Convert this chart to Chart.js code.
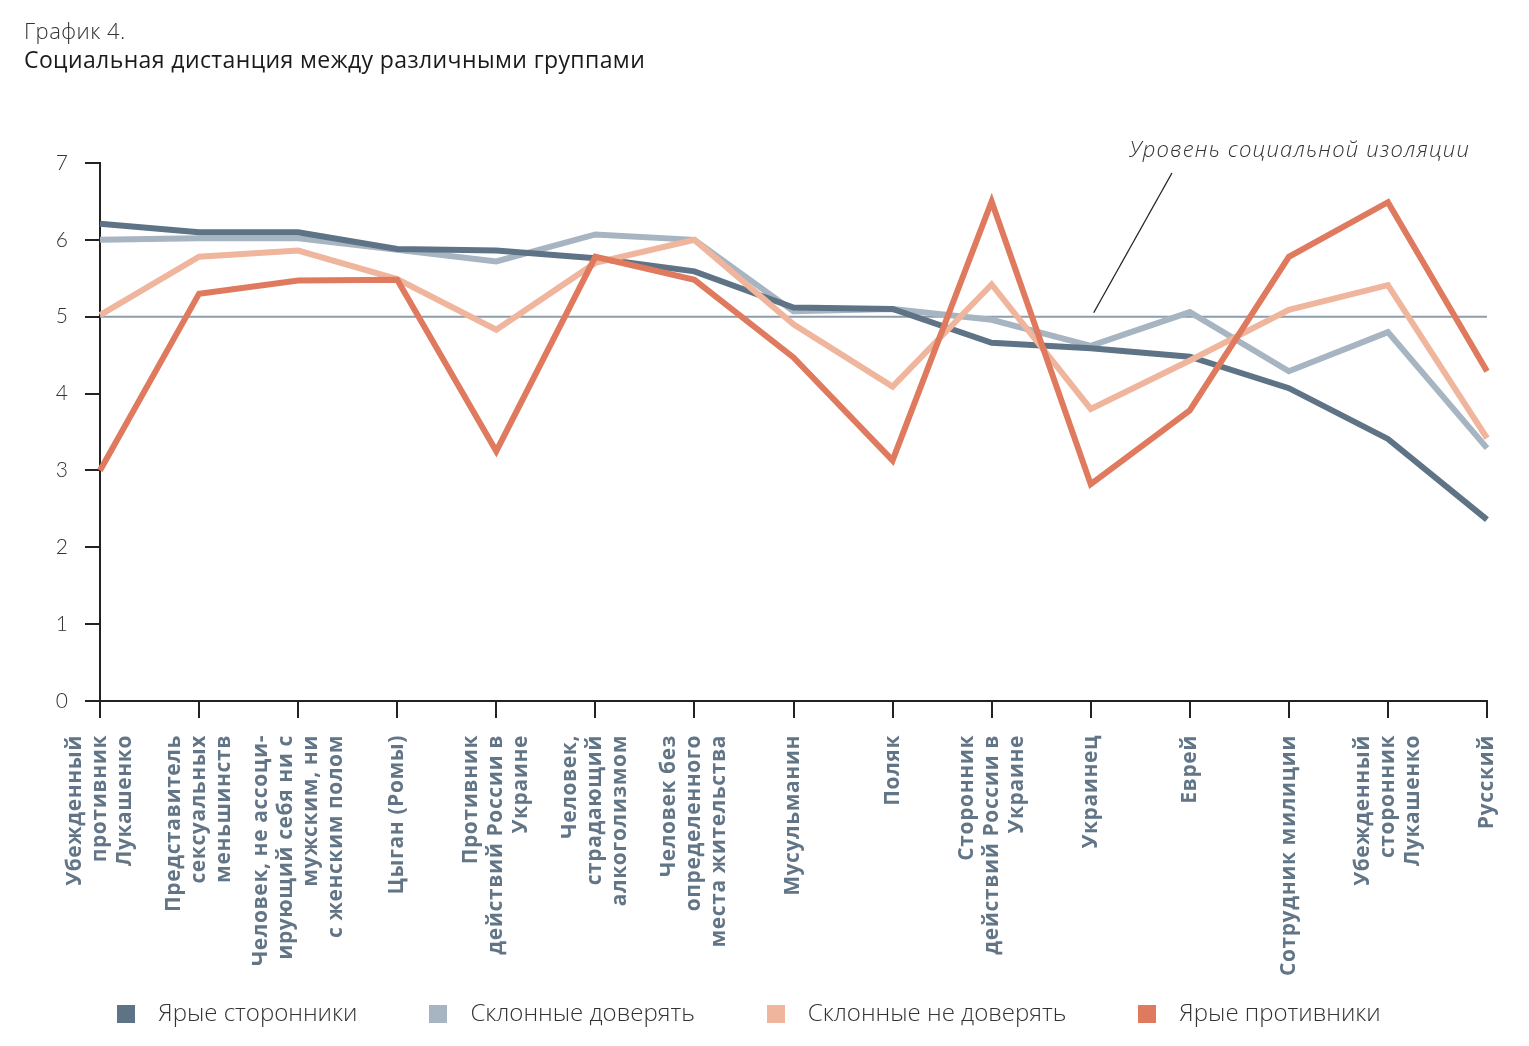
<!DOCTYPE html>
<html><head><meta charset="utf-8">
<script src="https://cdn.jsdelivr.net/npm/chart.js@4"></script>
<style>
html,body{margin:0;padding:0;background:#fff;}
body{width:1529px;height:1046px;position:relative;overflow:hidden;font-family:"Open Sans", sans-serif;}
#t1{position:absolute;left:24px;top:15px;font-size:22px;font-weight:300;color:#333;letter-spacing:0.5px;}
#t2{position:absolute;left:24px;top:43px;font-size:23px;font-weight:500;color:#1a1a1a;letter-spacing:0.4px;}
#wrap{position:absolute;left:0;top:0;width:1529px;height:1046px;}
</style></head><body>
<div id="wrap"><canvas id="c"></canvas></div>
<div id="t1">График 4.</div>
<div id="t2">Социальная дистанция между различными группами</div>
<script>
const categories = [
  ["Убежденный","противник","Лукашенко"],
  ["Представитель","сексуальных","меньшинств"],
  ["Человек, не ассоци-","ирующий себя ни с","мужским, ни","с женским полом"],
  ["Цыган (Ромы)"],
  ["Противник","действий России в","Украине"],
  ["Человек,","страдающий","алкоголизмом"],
  ["Человек без","определенного","места жительства"],
  ["Мусульманин"],
  ["Поляк"],
  ["Сторонник","действий России в","Украине"],
  ["Украинец"],
  ["Еврей"],
  ["Сотрудник милиции"],
  ["Убежденный","сторонник","Лукашенко"],
  ["Русский"]
];
const seriesNames = ["Ярые сторонники","Склонные доверять","Склонные не доверять","Ярые противники"];
const strongSupporters = [6.21,6.10,6.10,5.88,5.86,5.76,5.59,5.12,5.10,4.66,4.59,4.48,4.07,3.41,2.36];
const leanTrust        = [6.00,6.02,6.02,5.87,5.72,6.07,6.00,5.07,5.10,4.96,4.62,5.06,4.29,4.80,3.29];
const leanDistrust     = [5.02,5.78,5.86,5.49,4.83,5.70,6.00,4.90,4.09,5.42,3.80,4.43,5.09,5.41,3.42];
const strongOpponents  = [3.00,5.30,5.47,5.48,3.25,5.78,5.48,4.47,3.13,6.50,2.82,3.78,5.78,6.49,4.29];
const yTickValues = [0,1,2,3,4,5,6,7];
const isolationLevel = 5;
const isolationLabel = "Уровень социальной изоляции";

const colors = ["#5f7386","#a6b5c1","#efb59d","#e07a5e"];
const seriesData = [strongSupporters, leanTrust, leanDistrust, strongOpponents];
const drawOrder = [2,3,1,0];

function swatch(color){
  const c = document.createElement('canvas');
  c.width = 18; c.height = 18;
  const g = c.getContext('2d');
  g.fillStyle = color; g.fillRect(0,0,18,18);
  return c;
}

const xLabelPlugin = {
  id:'xLabels',
  afterDraw(chart){
    const {ctx} = chart; const x = chart.scales.x;
    ctx.save();
    ctx.font = 'bold 21px "Open Sans"';
    ctx.letterSpacing = '0.6px';
    ctx.fillStyle = '#627587';
    ctx.textAlign = 'right'; ctx.textBaseline = 'middle';
    const lh = 25;
    categories.forEach((lines,i)=>{
      const px = x.getPixelForTick(i);
      const n = lines.length;
      lines.forEach((ln,j)=>{
        ctx.save();
        ctx.translate(px + (j-(n-1)/2)*lh, x.top + 34);
        ctx.rotate(-Math.PI/2);
        ctx.fillText(ln,0,0);
        ctx.restore();
      });
    });
    ctx.restore();
  }
};

const isolationPlugin = {
  id:'isolation',
  beforeDatasetsDraw(chart){
    const {ctx, chartArea} = chart; const y = chart.scales.y;
    const py = y.getPixelForValue(isolationLevel);
    ctx.save();
    ctx.strokeStyle = '#8d9dab'; ctx.lineWidth = 2;
    ctx.beginPath(); ctx.moveTo(chartArea.left, py); ctx.lineTo(chartArea.right, py); ctx.stroke();
    ctx.restore();
  },
  afterDraw(chart){
    const {ctx, chartArea} = chart; const x = chart.scales.x; const y = chart.scales.y;
    const x10 = x.getPixelForValue(10), x11 = x.getPixelForValue(11);
    ctx.save();
    ctx.strokeStyle = '#222'; ctx.lineWidth = 1.3;
    ctx.beginPath();
    ctx.moveTo(x10 + 0.03*(x11-x10), y.getPixelForValue(isolationLevel) - 4);
    ctx.lineTo(x10 + 0.82*(x11-x10), y.getPixelForValue(6.87));
    ctx.stroke();
    ctx.font = 'italic 300 22px "Open Sans"';
    ctx.letterSpacing = '1.2px';
    ctx.fillStyle = '#333'; ctx.textAlign = 'right'; ctx.textBaseline = 'middle';
    ctx.fillText(isolationLabel, chartArea.right - 17, y.getPixelForValue(7.16));
    ctx.restore();
  }
};

new Chart(document.getElementById('c'), {
  type:'line',
  data:{
    labels: categories,
    datasets: seriesNames.map((name,i)=>({
      label:name,
      data:seriesData[i],
      borderColor:colors[i],
      backgroundColor:colors[i],
      borderWidth:6,
      pointRadius:0,
      pointHoverRadius:0,
      pointStyle:swatch(colors[i]),
      tension:0,
      borderJoinStyle:'miter',
      borderCapStyle:'butt',
      fill:false,
      order:drawOrder[i]
    }))
  },
  options:{
    responsive:true,
    maintainAspectRatio:false,
    animation:false,
    layout:{padding:{left:0,right:42,top:163,bottom:10}},
    plugins:{
      tooltip:{enabled:false},
      legend:{
        position:'bottom',
        labels:{
          usePointStyle:true,
          pointStyleWidth:40,
          font:{family:'Open Sans',size:24,weight:300},
          color:'#333',
          padding:61,
          sort:(a,b)=>a.datasetIndex-b.datasetIndex
        }
      }
    },
    scales:{
      x:{
        type:'category',
        offset:false,
        grid:{drawOnChartArea:false,drawTicks:true,tickLength:17,color:'#222',lineWidth:2},
        border:{color:'#222',width:2},
        ticks:{display:false},
        afterFit(s){ s.height = 240; }
      },
      y:{
        min:0,max:7,
        afterBuildTicks(s){ s.ticks = yTickValues.map(v=>({value:v})); },
        grid:{drawOnChartArea:false,drawTicks:true,tickLength:15,color:'#222',lineWidth:2},
        border:{color:'#222',width:2},
        ticks:{font:{family:'Lato',size:21,weight:300},color:'#333',padding:17},
        afterFit(s){ s.width = 100; }
      }
    }
  },
  plugins:[isolationPlugin, xLabelPlugin]
});
</script>
</body></html>
